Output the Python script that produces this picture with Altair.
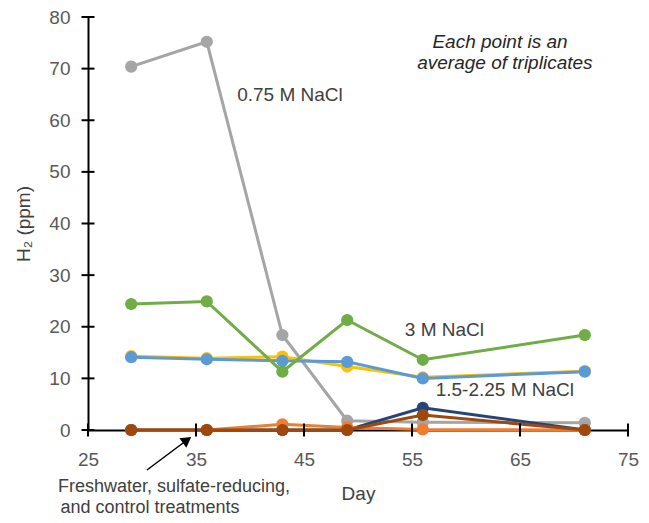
import altair as alt
import pandas as pd

days = [29, 36, 43, 49, 56, 71]
s_075 = [70.4, 75.2, 18.4, 1.8, 1.5, 1.4]
s_150 = [14.3, 13.9, 14.2, 12.3, 10.2, 11.4]
s_225 = [14.1, 13.7, 13.4, 13.2, 10.0, 11.3]
s_300 = [24.4, 24.9, 11.3, 21.3, 13.6, 18.4]
s_fresh = [0, 0, 0, 0, 4.3, 0]
s_sulf = [0, 0, 1.1, 0.5, 0.1, 0]
s_ctrl = [0, 0, 0, 0, 2.9, 0]

series_names = ["0.75 M", "1.5 M", "2.25 M", "3 M", "Freshwater", "Sulfate-reducing", "Control"]
series_vals = [s_075, s_150, s_225, s_300, s_fresh, s_sulf, s_ctrl]
series_colors = ["#A5A5A5", "#FFC000", "#5B9BD5", "#70AD47", "#264478", "#ED7D31", "#9E480E"]

x_ticks = [25, 35, 45, 55, 65, 75]
y_ticks = [0, 10, 20, 30, 40, 50, 60, 70, 80]

labels_text = ["0.75 M NaCl", "3 M NaCl", "1.5-2.25 M NaCl"]
labels_x = [43.7, 58.0, 63.6]
labels_y = [64.9, 19.4, 7.75]

note_text = ["Each point is an", "average of triplicates"]
note_x = [63.15, 63.6]
note_y = [75.2, 71.1]

bottom_text = ["Freshwater, sulfate-reducing,", "and control treatments"]
bottom_x = [32.96, 30.74]
bottom_y = [-11.04, -15.1]

arrow_start = (30.46, -7.75)
arrow_head = (34.17, -1.94)

W, H = 540, 413
FONT = "Liberation Sans"

rows = []
for name, vals in zip(series_names, series_vals):
    for d, v in zip(days, vals):
        rows.append({"series": name, "day": d, "ppm": v})
df = pd.DataFrame(rows)

xscale = alt.Scale(domain=[25, 75], nice=False, zero=False)
yscale = alt.Scale(domain=[0, 80], nice=False)

xaxis = alt.Axis(values=x_ticks, ticks=False, grid=False, domainColor="black", domainWidth=2,
                 labelFlush=False, labelOverlap=False,
                 labelFont=FONT, labelFontSize=19, labelColor="#595959", labelPadding=20,
                 title="Day", titleFont=FONT, titleFontSize=19, titleFontWeight="normal",
                 titleColor="#404040", titlePadding=15)
yaxis = alt.Axis(values=y_ticks, ticks=False, grid=False, domainColor="black", domainWidth=2,
                 labelFlush=False, labelOverlap=False,
                 labelFont=FONT, labelFontSize=19, labelColor="#595959", labelPadding=18,
                 title="H₂ (ppm)", titleFont=FONT, titleFontSize=19, titleFontWeight="normal",
                 titleColor="#404040", titlePadding=15)

base = alt.Chart(df)
layers = [
    base.mark_line(opacity=0).encode(
        x=alt.X("day:Q", scale=xscale, axis=xaxis),
        y=alt.Y("ppm:Q", scale=yscale, axis=yaxis),
    )
]
for name, color in zip(series_names, series_colors):
    sub = base.transform_filter(alt.datum.series == name)
    layers.append(sub.mark_line(color=color, strokeWidth=3).encode(
        x=alt.X("day:Q", scale=xscale), y=alt.Y("ppm:Q", scale=yscale)))
    layers.append(sub.mark_circle(color=color, size=150, opacity=1).encode(
        x=alt.X("day:Q", scale=xscale), y=alt.Y("ppm:Q", scale=yscale)))

xt = alt.Chart(pd.DataFrame({"t": x_ticks})).mark_rule(color="black", strokeWidth=2).encode(
    x=alt.X("t:Q", scale=xscale), y=alt.value(H - 6.5), y2=alt.value(H + 6.5))
yt = alt.Chart(pd.DataFrame({"t": y_ticks})).mark_rule(color="black", strokeWidth=2).encode(
    y=alt.Y("t:Q", scale=yscale), x=alt.value(-6.5), x2=alt.value(6.5))
layers += [xt, yt]

lab = alt.Chart(pd.DataFrame({"text": labels_text, "x": labels_x, "y": labels_y})).mark_text(
    font=FONT, fontSize=19, color="#404040", align="center", baseline="middle").encode(
    x=alt.X("x:Q", scale=xscale), y=alt.Y("y:Q", scale=yscale), text="text:N")
note = alt.Chart(pd.DataFrame({"text": note_text, "x": note_x, "y": note_y})).mark_text(
    font=FONT, fontSize=19, fontStyle="italic", color="#262626", align="center", baseline="middle").encode(
    x=alt.X("x:Q", scale=xscale), y=alt.Y("y:Q", scale=yscale), text="text:N")
bot = alt.Chart(pd.DataFrame({"text": bottom_text, "x": bottom_x, "y": bottom_y})).mark_text(
    font=FONT, fontSize=18, color="#404040", align="center", baseline="middle").encode(
    x=alt.X("x:Q", scale=xscale), y=alt.Y("y:Q", scale=yscale), text="text:N")

arrow_df = pd.DataFrame({"x": [arrow_start[0]], "y": [arrow_start[1]],
                         "x2": [arrow_head[0]], "y2": [arrow_head[1]]})
arrow_line = alt.Chart(arrow_df).mark_rule(color="black", strokeWidth=1.5).encode(
    x=alt.X("x:Q", scale=xscale), y=alt.Y("y:Q", scale=yscale), x2="x2:Q", y2="y2:Q")
arrow_tip = alt.Chart(arrow_df).mark_point(shape="triangle-up", filled=True, color="black",
                                           size=140, angle=54, opacity=1).encode(
    x=alt.X("x2:Q", scale=xscale), y=alt.Y("y2:Q", scale=yscale))
layers += [lab, note, bot, arrow_line, arrow_tip]

chart = alt.layer(*layers).properties(
    width=W, height=H,
    autosize=alt.AutoSizeParams(type="none"),
    padding={"left": 80, "top": 9, "right": 13, "bottom": 92},
).configure_view(stroke=None)

chart.save("out.html", embed_options={"renderer": "svg", "actions": False})
